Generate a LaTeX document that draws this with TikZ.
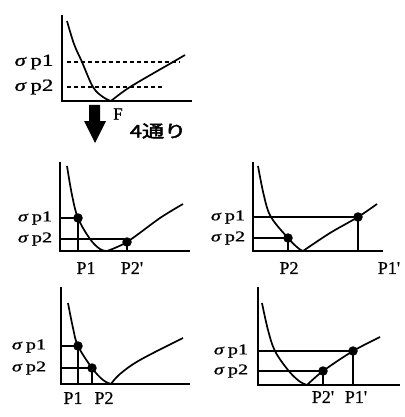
\documentclass[tikz,border=0pt]{standalone}
\usepackage{fontspec}
\setmainfont[FakeBold=0.8]{Liberation Serif}
\newfontfamily\cjk[AutoFakeBold=2.5]{Noto Sans CJK JP}
\begin{document}
\begin{tikzpicture}[x=1pt,y=-1pt,
  axis/.style={line width=2pt},
  crv/.style={line width=1.7pt},
  guide/.style={line width=1.3pt},
  dsh/.style={line width=1.3pt, dash pattern=on 4pt off 3pt},
  dot/.style={circle, fill=black, inner sep=0pt, minimum size=9.5pt},
  slab/.style={inner sep=0pt, font=\fontsize{15}{15}\selectfont},
  plab/.style={inner sep=0pt, font=\fontsize{18}{18}\selectfont}]
\useasboundingbox (0,0) rectangle (404,417);
\newcommand{\sig}[1]{\scalebox{1.35}[1]{\textit{σ}\,p#1}}
\newcommand{\pr}{\textquotesingle}
% ---------- top panel
\draw[axis] (62,15) -- (62,101) -- (192,101);
\draw[crv] plot[smooth, tension=0.6] coordinates {(67,21) (74,44) (82,62) (93,87) (103,97) (111,101)};
\draw[crv] plot[smooth, tension=0.5] coordinates {(111,101) (130,87) (173,62) (185,55)};
\draw[dsh] (67,62) -- (180,62);
\draw[dsh] (67,87) -- (162,87);
\node[slab, font=\fontsize{17}{17}\selectfont] (t1) at (34,62) {\sig{1}};
\node[slab, font=\fontsize{17}{17}\selectfont] (t2) at (34,87) {\sig{2}};
% arrow
\fill (89,105) -- (100,105) -- (100,121) -- (106,121) -- (95,143) -- (84,121) -- (89,121) -- cycle;
\node[plab, font=\fontsize{17}{17}\selectfont] (F) at (118,114) {F};
\node[inner sep=0pt] (four) at (158,131) {\scalebox{1.3}[1]{\cjk\bfseries\fontsize{17}{17}\selectfont 4通り}};
% ---------- middle left
\draw[axis] (60,162) -- (60,251) -- (190,251);
\draw[crv] plot[smooth, tension=0.6] coordinates {(67,166) (72,195) (78,218) (90,239) (100,249) (107,251)};
\draw[crv] plot[smooth, tension=0.5] coordinates {(107,251) (127,242) (160,218) (183,204)};
\node[dot] (a1) at (78,218) {};
\node[dot] (a2) at (127,242) {};
\draw[guide] (60,218) -- (a1.center) -- (78,251);
\draw[guide] (60,239) -- (127,239);
\draw[guide] (a2.center) -- (127,251);
\node[slab] (a1l) at (35,218) {\sig{1}};
\node[slab] (a2l) at (35,239) {\sig{2}};
\node[plab] (a1p) at (86,268) {P1};
\node[plab] (a2p) at (132,268) {P2\pr};
% ---------- middle right
\draw[axis] (253,162) -- (253,251) -- (383,251);
\draw[crv] plot[smooth, tension=0.6] coordinates {(258,166) (264,196) (271,217) (288,238) (298,248) (303,251)};
\draw[crv] plot[smooth, tension=0.5] coordinates {(303,251) (330,233) (358,217) (377,204)};
\node[dot] (b1) at (358,217) {};
\node[dot] (b2) at (288,238) {};
\draw[guide] (253,217) -- (b1.center) -- (358,251);
\draw[guide] (253,238) -- (b2.center) -- (288,251);
\node[slab] (b1l) at (228,217) {\sig{1}};
\node[slab] (b2l) at (228,238) {\sig{2}};
\node[plab] (b2p) at (289,268) {P2};
\node[plab] (b1p) at (389,268) {P1\pr};
% ---------- bottom left
\draw[axis] (61,287) -- (61,384) -- (190,384);
\draw[crv] plot[smooth, tension=0.6] coordinates {(68,303) (73,328) (78,346) (92,368) (103,380) (111,384)};
\draw[crv] plot[smooth, tension=0.6] coordinates {(111,384) (120,374) (140,360) (183,338)};
\node[dot] (c1) at (78,346) {};
\node[dot] (c2) at (92,368) {};
\draw[guide] (61,346) -- (c1.center) -- (78,384);
\draw[guide] (61,368) -- (c2.center) -- (92,384);
\node[slab] (c1l) at (29,346) {\sig{1}};
\node[slab] (c2l) at (29,368) {\sig{2}};
\node[plab] (c1p) at (73,398) {P1};
\node[plab] (c2p) at (104,398) {P2};
% ---------- bottom right
\draw[axis] (258,287) -- (258,385) -- (400,385);
\draw[crv] plot[smooth, tension=0.6] coordinates {(262,303) (268,330) (275,351) (288,370) (299,381) (307,385)};
\draw[crv] plot[smooth, tension=0.5] coordinates {(307,385) (323,371) (353,351) (380,337)};
\node[dot] (d1) at (353,351) {};
\node[dot] (d2) at (323,371) {};
\draw[guide] (258,351) -- (d1.center) -- (353,385);
\draw[guide] (258,371) -- (d2.center) -- (323,385);
\node[slab] (d1l) at (231,351) {\sig{1}};
\node[slab] (d2l) at (231,371) {\sig{2}};
\node[plab] (d2p) at (323,397) {P2\pr};
\node[plab] (d1p) at (356,397) {P1\pr};
\end{tikzpicture}
\end{document}
